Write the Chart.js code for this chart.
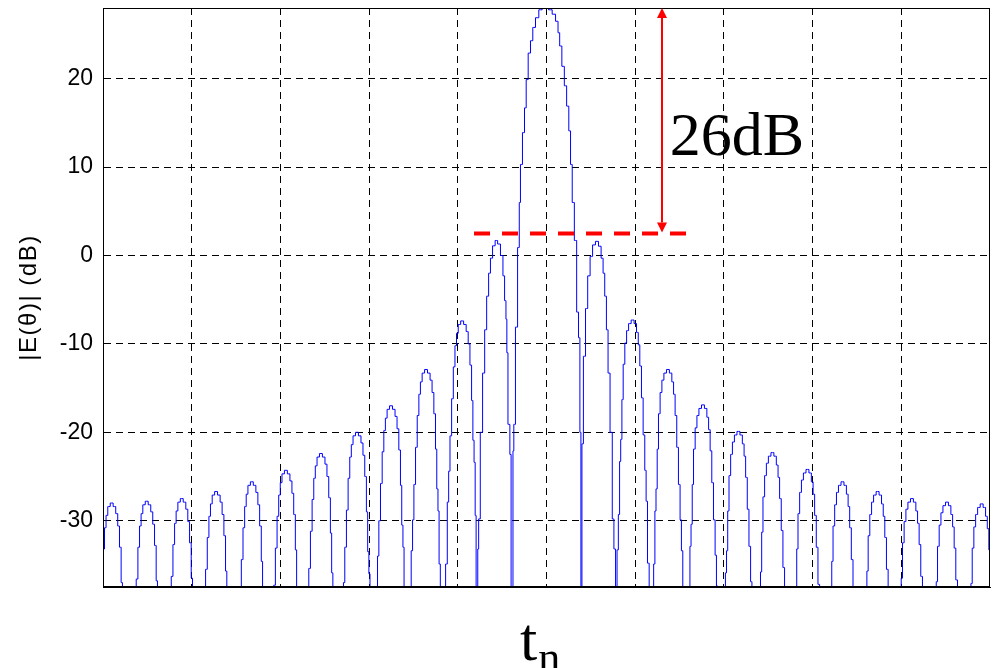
<!DOCTYPE html>
<html>
<head>
<meta charset="utf-8">
<script src="https://cdn.jsdelivr.net/npm/chart.js@4"></script>
<style>
  html, body { margin: 0; padding: 0; background: #fff; }
  canvas { display: block; }
</style>
</head>
<body>
<canvas id="patternChart" width="996" height="668"></canvas>
<script>
// side lobes left of the main beam, outermost first (t_n, |E| in dB)
const leftT = [
    -50.11, -49.92, -49.74, -49.57, -49.35, -49.02, -48.69, -48.44, -48.24, -48.04, -47.87, -47.75,
    -46.35, -46.16, -45.97, -45.79, -45.62, -45.40, -45.07, -44.74, -44.49, -44.29, -44.09, -43.92, -43.80,
    -42.40, -42.21, -42.02, -41.84, -41.67, -41.45, -41.12, -40.79, -40.54, -40.34, -40.14, -39.97, -39.85,
    -38.53, -38.34, -38.15, -37.97, -37.80, -37.58, -37.25, -36.92, -36.67, -36.47, -36.27, -36.10, -35.98,
    -34.50, -34.31, -34.12, -33.94, -33.77, -33.55, -33.22, -32.89, -32.64, -32.44, -32.24, -32.07, -31.95,
    -30.84, -30.66, -30.47, -30.28, -30.10, -29.93, -29.71, -29.38, -29.05, -28.80, -28.60, -28.40, -28.23, -28.11, -27.96,
    -26.89, -26.71, -26.52, -26.33, -26.15, -25.98, -25.76, -25.43, -25.10, -24.85, -24.65, -24.45, -24.28, -24.16, -24.01,
    -22.95, -22.83, -22.65, -22.46, -22.27, -22.09, -21.92, -21.70, -21.37, -21.04, -20.79, -20.59, -20.39, -20.22, -20.10, -19.95, -19.85,
    -19.30, -19.11, -18.99, -18.81, -18.62, -18.43, -18.25, -18.08, -17.86, -17.53, -17.20, -16.95, -16.75, -16.55, -16.38, -16.26, -16.11, -16.01,
    -15.35, -15.16, -15.04, -14.86, -14.67, -14.48, -14.30, -14.13, -13.91, -13.58, -13.25, -13.00, -12.80, -12.60, -12.43, -12.31, -12.16, -12.06, -11.88,
    -11.47, -11.28, -11.09, -10.97, -10.79, -10.60, -10.41, -10.23, -10.06, -9.84, -9.51, -9.18, -8.93, -8.73, -8.53, -8.36, -8.24, -8.09, -7.99, -7.88,
    -7.80, -7.70, -7.60, -7.33, -7.08, -6.86, -6.63, -6.42, -6.22, -5.94, -5.64, -5.38, -5.00, -4.82, -4.63, -4.51, -4.43, -4.26, -4.00, -3.98
];
const leftDb = [
    -36.8, -33.2, -30.8, -29.4, -28.4, -28.0, -28.4, -29.2, -30.6, -33.0, -37.0, -41.5,
    -40.8, -36.6, -33.0, -30.6, -29.2, -28.2, -27.8, -28.2, -29.0, -30.4, -32.8, -36.8, -41.3,
    -40.5, -36.3, -32.7, -30.3, -28.9, -27.9, -27.5, -27.9, -28.7, -30.1, -32.5, -36.5, -41.0,
    -39.7, -35.5, -31.9, -29.5, -28.1, -27.1, -26.7, -27.1, -27.9, -29.3, -31.7, -35.7, -40.2,
    -38.6, -34.4, -30.8, -28.4, -27.0, -26.0, -25.6, -26.0, -26.8, -28.2, -30.6, -34.6, -39.1,
    -41.3, -37.3, -33.1, -29.5, -27.1, -25.7, -24.7, -24.3, -24.7, -25.5, -26.9, -29.3, -33.3, -37.8, -40.3,
    -39.4, -35.4, -31.2, -27.6, -25.2, -23.8, -22.8, -22.4, -22.8, -23.6, -25.0, -27.4, -31.4, -35.9, -38.4,
    -40.5, -37.0, -33.0, -28.8, -25.2, -22.8, -21.4, -20.4, -20.0, -20.4, -21.2, -22.6, -25.0, -29.0, -33.5, -36.0, -42.0,
    -44.5, -37.5, -34.0, -30.0, -25.8, -22.2, -19.8, -18.4, -17.4, -17.0, -17.4, -18.2, -19.6, -22.0, -26.0, -30.5, -33.0, -39.0,
    -40.4, -33.4, -29.9, -25.9, -21.7, -18.1, -15.7, -14.3, -13.3, -12.9, -13.3, -14.1, -15.5, -17.9, -21.9, -26.4, -28.9, -34.9, -38.9,
    -42.4, -34.9, -27.9, -24.4, -20.4, -16.2, -12.6, -10.2, -8.8, -7.8, -7.4, -7.8, -8.6, -10.0, -12.4, -16.4, -20.9, -23.4, -29.4, -42.0,
    -44.0, -33.2, -29.8, -20.0, -13.3, -8.4, -4.6, -2.0, -0.3, 1.1, 1.7, 1.3, 0.0, -2.3, -5.1, -7.2, -11.0, -19.1, -22.5, -45.0
];

// main beam
const mainT = [
    -3.80, -3.76, -3.61, -3.39, -3.13, -3.01, -2.86, -2.56, -2.40, -2.18, -1.95, -1.66, -1.43, -1.05, -0.68, -0.30,
    0.00, 0.45, 0.83, 1.21, 1.39, 1.58, 1.88, 2.14, 2.40, 2.63, 2.79, 3.01, 3.27, 3.53, 3.69, 3.84, 3.92
];
const mainDb = [
    -45.0, -22.1, -19.1, -8.1, 0.9, 6.0, 10.3, 13.9, 16.7, 19.9, 22.9, 24.3, 25.8, 26.9, 27.8, 28.0,
    28.0, 27.8, 27.3, 26.5, 25.2, 23.7, 21.4, 19.2, 16.9, 14.1, 10.3, 6.0, 1.7, -6.4, -9.3, -20.0, -45.0
];

// side lobes right of the main beam
const rightT = [
    3.96, 4.03, 4.29, 4.51, 4.78, 5.05, 5.34, 5.70, 6.02, 6.29, 6.47, 6.66, 6.85, 7.03, 7.30, 7.53, 7.67, 7.90,
    8.01, 8.19, 8.29, 8.44, 8.56, 8.73, 8.93, 9.13, 9.38, 9.71, 10.04, 10.26, 10.43, 10.61, 10.80, 10.99, 11.17, 11.29, 11.48, 11.67,
    11.99, 12.17, 12.27, 12.42, 12.54, 12.71, 12.91, 13.11, 13.36, 13.69, 14.02, 14.24, 14.41, 14.59, 14.78, 14.97, 15.15, 15.27, 15.46,
    16.12, 16.22, 16.37, 16.49, 16.66, 16.86, 17.06, 17.31, 17.64, 17.97, 18.19, 18.36, 18.54, 18.73, 18.92, 19.10, 19.22, 19.41,
    20.12, 20.22, 20.37, 20.49, 20.66, 20.86, 21.06, 21.31, 21.64, 21.97, 22.19, 22.36, 22.54, 22.73, 22.92, 23.10, 23.22,
    24.05, 24.20, 24.32, 24.49, 24.69, 24.89, 25.14, 25.47, 25.80, 26.02, 26.19, 26.37, 26.56, 26.75, 26.93,
    28.00, 28.15, 28.27, 28.44, 28.64, 28.84, 29.09, 29.42, 29.75, 29.97, 30.14, 30.32, 30.51, 30.70, 30.88,
    32.10, 32.22, 32.39, 32.59, 32.79, 33.04, 33.37, 33.70, 33.92, 34.09, 34.27, 34.46, 34.65,
    36.06, 36.18, 36.35, 36.55, 36.75, 37.00, 37.33, 37.66, 37.88, 38.05, 38.23, 38.42, 38.61,
    39.93, 40.05, 40.22, 40.42, 40.62, 40.87, 41.20, 41.53, 41.75, 41.92, 42.10, 42.29, 42.48,
    43.88, 44.00, 44.17, 44.37, 44.57, 44.82, 45.15, 45.48, 45.70, 45.87, 46.05, 46.24, 46.43,
    47.79, 47.91, 48.08, 48.28, 48.48, 48.73, 49.06, 49.39, 49.61, 49.78, 49.96, 50.15
];
const rightDb = [
    -45.0, -21.3, -11.4, -6.0, -2.3, -0.1, 1.2, 1.6, 1.05, -0.3, -2.0, -4.6, -8.4, -13.3, -20.0, -29.8, -33.2, -45.0,
    -33.3, -29.3, -23.3, -20.8, -16.3, -12.3, -9.9, -8.5, -7.7, -7.3, -7.7, -8.7, -10.1, -12.5, -16.1, -20.3, -24.3, -27.8, -34.8, -42.3,
    -38.9, -34.9, -28.9, -26.4, -21.9, -17.9, -15.5, -14.1, -13.3, -12.9, -13.3, -14.3, -15.7, -18.1, -21.7, -25.9, -29.9, -33.4, -40.4,
    -38.9, -32.9, -30.4, -25.9, -21.9, -19.5, -18.1, -17.3, -16.9, -17.3, -18.3, -19.7, -22.1, -25.7, -29.9, -33.9, -37.4, -44.4,
    -41.9, -35.9, -33.4, -28.9, -24.9, -22.5, -21.1, -20.3, -19.9, -20.3, -21.3, -22.7, -25.1, -28.7, -32.9, -36.9, -40.4,
    -38.3, -35.8, -31.3, -27.3, -24.9, -23.5, -22.7, -22.3, -22.7, -23.7, -25.1, -27.5, -31.1, -35.3, -39.3,
    -40.2, -37.7, -33.2, -29.2, -26.8, -25.4, -24.6, -24.2, -24.6, -25.6, -27.0, -29.4, -33.0, -37.2, -41.2,
    -39.1, -34.6, -30.6, -28.2, -26.8, -26.0, -25.6, -26.0, -27.0, -28.4, -30.8, -34.4, -38.6,
    -40.2, -35.7, -31.7, -29.3, -27.9, -27.1, -26.7, -27.1, -28.1, -29.5, -31.9, -35.5, -39.7,
    -41.0, -36.5, -32.5, -30.1, -28.7, -27.9, -27.5, -27.9, -28.9, -30.3, -32.7, -36.3, -40.5,
    -41.4, -36.9, -32.9, -30.5, -29.1, -28.3, -27.9, -28.3, -29.3, -30.7, -33.1, -36.7, -40.9,
    -41.6, -37.1, -33.1, -30.7, -29.3, -28.5, -28.1, -28.5, -29.5, -30.9, -33.3, -36.9
];

const yTicks = [-30, -20, -10, 0, 10, 20];
const xGrid = [-40, -30, -20, -10, 0, 10, 20, 30, 40];

// 26 dB marker: dashed level line and the double arrow
const levelDb = 2.5;
const levelFrom = -8.17;
const levelTo = 15.73;
const arrowT = 13.02;
const arrowTopDb = 28;
const arrowBottomDb = 2.6;
const markLabel = '26dB';
const markLabelT = 13.9;
const markLabelDb = 11.4;

const pattern = [];
[[leftT, leftDb], [mainT, mainDb], [rightT, rightDb]].forEach(([ts, dbs]) => {
    ts.forEach((t, i) => pattern.push({ x: t, y: dbs[i] }));
});

// frame, double arrow and the text bits around the axes
const decorations = {
    id: 'decorations',
    afterDatasetsDraw(chart) {
        const { ctx, chartArea: a } = chart;
        ctx.save();
        ctx.strokeStyle = '#000';
        ctx.lineWidth = 1;
        ctx.strokeRect(Math.round(a.left) + 0.5, Math.round(a.top) + 0.5,
            Math.round(a.right - a.left) - 1, Math.round(a.bottom - a.top) - 1);
        ctx.restore();
    },
    afterDraw(chart) {
        const { ctx, chartArea: a, scales: { x, y } } = chart;
        ctx.save();

        // double headed arrow
        const ax = Math.round(x.getPixelForValue(arrowT));
        const top = y.getPixelForValue(arrowTopDb);
        const bot = y.getPixelForValue(arrowBottomDb);
        const head = 10, half = 5;
        ctx.strokeStyle = '#ff0000';
        ctx.fillStyle = '#ff0000';
        ctx.lineWidth = 2;
        ctx.beginPath();
        ctx.moveTo(ax, top + head);
        ctx.lineTo(ax, bot - head);
        ctx.stroke();
        ctx.beginPath();
        ctx.moveTo(ax, top);
        ctx.lineTo(ax - half, top + head);
        ctx.lineTo(ax + half, top + head);
        ctx.closePath();
        ctx.fill();
        ctx.beginPath();
        ctx.moveTo(ax, bot);
        ctx.lineTo(ax - half, bot - head);
        ctx.lineTo(ax + half, bot - head);
        ctx.closePath();
        ctx.fill();

        ctx.fillStyle = '#000';
        ctx.font = '62px "Liberation Serif", "Times New Roman", serif';
        ctx.textAlign = 'left';
        ctx.textBaseline = 'alphabetic';
        ctx.fillText(markLabel, x.getPixelForValue(markLabelT), y.getPixelForValue(markLabelDb));

        // x title: t with subscript n
        const tx = 520;
        ctx.fillText('t', tx, 660);
        const tw = ctx.measureText('t').width;
        ctx.font = '44px "Liberation Serif", "Times New Roman", serif';
        ctx.fillText('n', tx + tw + 1, 672);

        // y title
        ctx.translate(29, (a.top + a.bottom) / 2);
        ctx.rotate(-Math.PI / 2);
        ctx.font = '24px "Liberation Sans", Arial, sans-serif';
        ctx.letterSpacing = '1.5px';
        ctx.textAlign = 'center';
        ctx.textBaseline = 'middle';
        ctx.fillText('|E(\u03b8)| (dB)', 0, 0);
        ctx.restore();
    }
};

new Chart(document.getElementById('patternChart'), {
    type: 'line',
    data: {
        datasets: [
            {
                label: '26 dB level',
                data: [{ x: levelFrom, y: levelDb }, { x: levelTo, y: levelDb }],
                borderColor: '#ff0000',
                borderWidth: 4,
                borderDash: [16, 12],
                pointRadius: 0
            },
            {
                label: '|E|',
                data: pattern,
                borderColor: '#0000ff',
                borderWidth: 1,
                pointRadius: 0,
                stepped: 'middle'
            }
        ]
    },
    options: {
        responsive: false,
        animation: false,
        devicePixelRatio: 1,
        layout: { padding: { top: 8, right: 6, left: 0, bottom: 0 } },
        plugins: {
            legend: { display: false },
            tooltip: { enabled: false }
        },
        scales: {
            x: {
                type: 'linear',
                min: -50,
                max: 50,
                afterBuildTicks: (s) => { s.ticks = xGrid.map(v => ({ value: v })); },
                afterFit: (s) => { s.height = 81; s.paddingLeft = 0; s.paddingRight = 0; },
                ticks: { display: false },
                grid: { color: '#000', lineWidth: 1, drawTicks: false },
                border: { display: true, color: '#000', width: 1, dash: [7, 5] }
            },
            y: {
                min: -37.5,
                max: 28,
                afterBuildTicks: (s) => { s.ticks = yTicks.map(v => ({ value: v })); },
                afterFit: (s) => { s.width = 103; s.paddingTop = 0; s.paddingBottom = 0; },
                ticks: {
                    padding: 10,
                    color: '#000',
                    font: { family: '"Liberation Sans", Arial, sans-serif', size: 23 }
                },
                grid: { color: '#000', lineWidth: 1, drawTicks: false },
                border: { display: true, color: '#000', width: 1, dash: [7, 5] }
            }
        }
    },
    plugins: [decorations]
});
</script>
</body>
</html>
